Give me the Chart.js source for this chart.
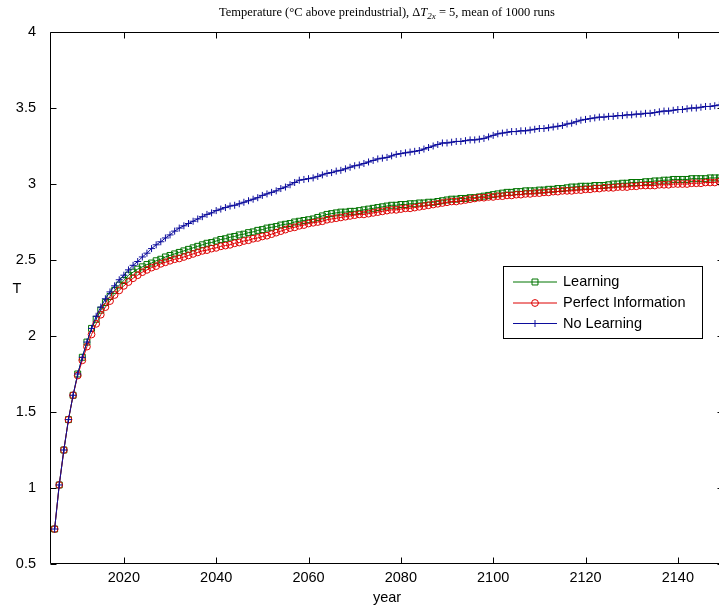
<!DOCTYPE html>
<html>
<head>
<meta charset="utf-8">
<script src="https://cdn.jsdelivr.net/npm/chart.js@4.4.1/dist/chart.umd.min.js"></script>
<style>
  html, body { margin: 0; padding: 0; background: #fff; overflow: hidden; }
  #wrap { position: relative; width: 730px; height: 605px; }
</style>
</head>
<body>
<div id="wrap"><canvas id="chart" width="730" height="605"></canvas></div>
<script>
// yearly means
const years = [
  2005, 2006, 2007, 2008, 2009, 2010, 2011, 2012, 2013, 2014,
  2015, 2016, 2017, 2018, 2019, 2020, 2021, 2022, 2023, 2024,
  2025, 2026, 2027, 2028, 2029, 2030, 2031, 2032, 2033, 2034,
  2035, 2036, 2037, 2038, 2039, 2040, 2041, 2042, 2043, 2044,
  2045, 2046, 2047, 2048, 2049, 2050, 2051, 2052, 2053, 2054,
  2055, 2056, 2057, 2058, 2059, 2060, 2061, 2062, 2063, 2064,
  2065, 2066, 2067, 2068, 2069, 2070, 2071, 2072, 2073, 2074,
  2075, 2076, 2077, 2078, 2079, 2080, 2081, 2082, 2083, 2084,
  2085, 2086, 2087, 2088, 2089, 2090, 2091, 2092, 2093, 2094,
  2095, 2096, 2097, 2098, 2099, 2100, 2101, 2102, 2103, 2104,
  2105, 2106, 2107, 2108, 2109, 2110, 2111, 2112, 2113, 2114,
  2115, 2116, 2117, 2118, 2119, 2120, 2121, 2122, 2123, 2124,
  2125, 2126, 2127, 2128, 2129, 2130, 2131, 2132, 2133, 2134,
  2135, 2136, 2137, 2138, 2139, 2140, 2141, 2142, 2143, 2144,
  2145, 2146, 2147, 2148, 2149, 2150,
];

const learning = [
  0.73, 1.02, 1.25, 1.45, 1.61, 1.75, 1.86, 1.96, 2.05, 2.11,
  2.17, 2.22, 2.26, 2.30, 2.335, 2.365, 2.40, 2.42, 2.44, 2.455,
  2.47, 2.48, 2.495, 2.505, 2.52, 2.53, 2.54, 2.55, 2.56, 2.57,
  2.58, 2.59, 2.60, 2.61, 2.615, 2.625, 2.635, 2.64, 2.65, 2.655,
  2.665, 2.67, 2.68, 2.685, 2.695, 2.70, 2.71, 2.715, 2.72, 2.73,
  2.735, 2.74, 2.75, 2.755, 2.76, 2.765, 2.77, 2.78, 2.79, 2.80,
  2.805, 2.81, 2.815, 2.815, 2.82, 2.82, 2.825, 2.83, 2.835, 2.84,
  2.845, 2.85, 2.855, 2.86, 2.86, 2.865, 2.865, 2.87, 2.87, 2.875,
  2.875, 2.88, 2.88, 2.885, 2.89, 2.895, 2.90, 2.90, 2.905, 2.905,
  2.91, 2.91, 2.915, 2.92, 2.925, 2.93, 2.935, 2.94, 2.945, 2.945,
  2.95, 2.95, 2.955, 2.955, 2.955, 2.96, 2.96, 2.965, 2.965, 2.97,
  2.97, 2.975, 2.98, 2.98, 2.985, 2.985, 2.985, 2.99, 2.99, 2.99,
  2.995, 3.00, 3.00, 3.005, 3.005, 3.01, 3.01, 3.01, 3.015, 3.015,
  3.02, 3.02, 3.025, 3.025, 3.03, 3.03, 3.03, 3.03, 3.035, 3.035,
  3.035, 3.035, 3.04, 3.04, 3.04, 3.04,
];

const perfectInfo = [
  0.73, 1.02, 1.25, 1.45, 1.61, 1.74, 1.84, 1.93, 2.01, 2.08,
  2.14, 2.19, 2.23, 2.27, 2.30, 2.33, 2.355, 2.38, 2.40, 2.42,
  2.435, 2.45, 2.46, 2.475, 2.485, 2.495, 2.505, 2.51, 2.52, 2.53,
  2.54, 2.55, 2.56, 2.565, 2.575, 2.58, 2.59, 2.595, 2.60, 2.61,
  2.615, 2.625, 2.63, 2.64, 2.645, 2.655, 2.66, 2.67, 2.68, 2.69,
  2.70, 2.71, 2.715, 2.725, 2.73, 2.74, 2.745, 2.75, 2.755, 2.765,
  2.77, 2.775, 2.78, 2.785, 2.79, 2.795, 2.80, 2.80, 2.805, 2.81,
  2.815, 2.82, 2.825, 2.83, 2.83, 2.835, 2.84, 2.84, 2.845, 2.85,
  2.855, 2.86, 2.865, 2.87, 2.875, 2.88, 2.885, 2.885, 2.89, 2.895,
  2.90, 2.905, 2.91, 2.91, 2.915, 2.915, 2.92, 2.92, 2.925, 2.925,
  2.93, 2.93, 2.935, 2.935, 2.94, 2.94, 2.945, 2.945, 2.95, 2.95,
  2.955, 2.955, 2.955, 2.96, 2.96, 2.965, 2.965, 2.97, 2.97, 2.975,
  2.975, 2.975, 2.98, 2.98, 2.98, 2.985, 2.985, 2.99, 2.99, 2.99,
  2.99, 2.995, 2.995, 2.995, 3.00, 3.00, 3.00, 3.00, 3.005, 3.005,
  3.005, 3.01, 3.01, 3.01, 3.015, 3.015,
];

const noLearning = [
  0.73, 1.02, 1.25, 1.45, 1.61, 1.75, 1.86, 1.96, 2.05, 2.13,
  2.19, 2.245, 2.29, 2.33, 2.37, 2.40, 2.435, 2.465, 2.49, 2.52,
  2.545, 2.575, 2.60, 2.62, 2.645, 2.665, 2.69, 2.71, 2.725, 2.74,
  2.755, 2.77, 2.785, 2.80, 2.81, 2.825, 2.835, 2.845, 2.855, 2.86,
  2.87, 2.88, 2.89, 2.90, 2.91, 2.925, 2.935, 2.945, 2.955, 2.97,
  2.98, 2.995, 3.01, 3.025, 3.03, 3.035, 3.04, 3.05, 3.06, 3.07,
  3.075, 3.085, 3.09, 3.10, 3.11, 3.12, 3.125, 3.135, 3.145, 3.155,
  3.165, 3.17, 3.175, 3.185, 3.195, 3.20, 3.205, 3.21, 3.215, 3.22,
  3.23, 3.24, 3.25, 3.26, 3.27, 3.27, 3.275, 3.28, 3.28, 3.285,
  3.29, 3.29, 3.295, 3.30, 3.31, 3.32, 3.33, 3.335, 3.34, 3.345,
  3.345, 3.35, 3.35, 3.355, 3.36, 3.365, 3.365, 3.37, 3.375, 3.38,
  3.385, 3.395, 3.40, 3.41, 3.42, 3.425, 3.43, 3.435, 3.44, 3.44,
  3.445, 3.445, 3.45, 3.45, 3.455, 3.455, 3.46, 3.46, 3.465, 3.465,
  3.47, 3.475, 3.48, 3.48, 3.485, 3.49, 3.49, 3.495, 3.50, 3.50,
  3.505, 3.51, 3.51, 3.515, 3.52, 3.525,
];

const xTicks = [2020, 2040, 2060, 2080, 2100, 2120, 2140];
const yTicks = [0.5, 1, 1.5, 2, 2.5, 3, 3.5, 4];

const seriesNames = ['Learning', 'Perfect Information', 'No Learning'];
const xLabel = 'year';
const yLabel = 'T';

const sans = '"Liberation Sans", Arial, sans-serif';
const serif = '"Liberation Serif", "DejaVu Serif", serif';

const colors = {
  green: '#007400',
  red: '#dd0000',
  blue: '#0c0c9c',
  axis: '#000000',
};

// title pieces: plain text, italic T, subscript 2x
const titleParts = [
  { text: 'Temperature (°C above preindustrial), Δ', font: '12.5px ' + serif, dy: 0 },
  { text: 'T', font: 'italic 12.5px ' + serif, dy: 0 },
  { text: '2x', font: 'italic 9px ' + serif, dy: 3 },
  { text: ' = 5, mean of 1000 runs', font: '12.5px ' + serif, dy: 0 },
];

function pts(values) {
  return years.map((yr, i) => ({ x: yr, y: values[i] }));
}

// box + inward ticks, like the matlab axes
const frame = {
  id: 'frame',
  afterDatasetsDraw(chart) {
    const { ctx, chartArea: a, scales: { x, y } } = chart;
    const L = Math.round(a.left) + 0.5, R = Math.round(a.right) - 0.5;
    const T = Math.round(a.top) + 0.5, B = Math.round(a.bottom) - 0.5;
    const tick = 6;
    ctx.save();
    ctx.strokeStyle = colors.axis;
    ctx.lineWidth = 1;
    ctx.beginPath();
    ctx.rect(L, T, R - L, B - T);
    xTicks.forEach(v => {
      const px = Math.round(x.getPixelForValue(v)) + 0.5;
      ctx.moveTo(px, B); ctx.lineTo(px, B - tick);
      ctx.moveTo(px, T); ctx.lineTo(px, T + tick);
    });
    yTicks.forEach(v => {
      const py = Math.round(y.getPixelForValue(v)) + 0.5;
      ctx.moveTo(L, py); ctx.lineTo(L + tick, py);
      ctx.moveTo(R, py); ctx.lineTo(R - tick, py);
    });
    ctx.stroke();

    // upright y label
    ctx.fillStyle = '#000';
    ctx.font = '14.5px ' + sans;
    ctx.textAlign = 'center';
    ctx.textBaseline = 'middle';
    ctx.fillText(yLabel, 17, 289);
    ctx.restore();
  },
};

const legendBox = {
  id: 'legendBox',
  afterDraw(chart) {
    const { ctx } = chart;
    const box = { x: 503.5, y: 266.5, w: 199, h: 72 };
    const rows = [282, 303, 323.5];
    ctx.save();
    ctx.fillStyle = '#fff';
    ctx.strokeStyle = '#000';
    ctx.lineWidth = 1;
    ctx.fillRect(box.x, box.y, box.w, box.h);
    ctx.strokeRect(box.x, box.y, box.w, box.h);
    chart.data.datasets.forEach((ds, i) => {
      const yy = rows[i];
      ctx.strokeStyle = ds.borderColor;
      ctx.beginPath();
      ctx.moveTo(513, yy); ctx.lineTo(557, yy);
      ctx.stroke();
      ctx.fillStyle = 'rgba(0,0,0,0)';
      Chart.helpers.drawPoint(ctx, {
        pointStyle: ds.pointStyle, radius: ds.pointRadius, rotation: 0, borderWidth: 1,
      }, 535, yy);
      ctx.fillStyle = '#000';
      ctx.font = '14.5px ' + sans;
      ctx.textAlign = 'left';
      ctx.textBaseline = 'middle';
      ctx.fillText(ds.label, 563, yy);
    });
    ctx.restore();
  },
};

const mixedTitle = {
  id: 'mixedTitle',
  afterDraw(chart) {
    const { ctx, chartArea: a } = chart;
    ctx.save();
    let total = 0;
    titleParts.forEach(p => { ctx.font = p.font; total += ctx.measureText(p.text).width; });
    let x = (a.left + a.right) / 2 - total / 2;
    ctx.fillStyle = '#000';
    ctx.textBaseline = 'alphabetic';
    ctx.textAlign = 'left';
    titleParts.forEach(p => {
      ctx.font = p.font;
      ctx.fillText(p.text, x, 16 + p.dy);
      x += ctx.measureText(p.text).width;
    });
    ctx.restore();
  },
};

new Chart(document.getElementById('chart'), {
  type: 'line',
  data: {
    datasets: [
      {
        label: seriesNames[0], data: pts(learning), order: 2,
        borderColor: colors.green, borderWidth: 1,
        pointStyle: 'rect', pointRadius: 4.2, pointBorderColor: colors.green,
        pointBackgroundColor: 'rgba(0,0,0,0)', pointBorderWidth: 1,
      },
      {
        label: seriesNames[1], data: pts(perfectInfo), order: 1,
        borderColor: colors.red, borderWidth: 1,
        pointStyle: 'circle', pointRadius: 3.4, pointBorderColor: colors.red,
        pointBackgroundColor: 'rgba(0,0,0,0)', pointBorderWidth: 1,
      },
      {
        label: seriesNames[2], data: pts(noLearning), order: 0,
        borderColor: colors.blue, borderWidth: 1,
        pointStyle: 'cross', pointRadius: 3.5, pointBorderColor: colors.blue,
        pointBackgroundColor: 'rgba(0,0,0,0)', pointBorderWidth: 1,
      },
    ],
  },
  options: {
    responsive: false,
    animation: false,
    devicePixelRatio: 1,
    layout: { padding: { left: 0, right: 6, top: 32, bottom: 0 } },
    elements: { line: { tension: 0 } },
    scales: {
      x: {
        type: 'linear', min: 2004, max: 2150,
        afterFit: s => { s.height = 41; },
        afterBuildTicks: s => { s.ticks = xTicks.map(v => ({ value: v })); },
        grid: { display: false }, border: { display: false },
        ticks: { color: '#000', font: { family: sans, size: 14.5 }, padding: -3, maxRotation: 0, autoSkip: false, callback: v => String(v) },
        title: { display: true, text: xLabel, color: '#000', font: { family: sans, size: 14.5 }, padding: { top: 0, bottom: -2 } },
      },
      y: {
        type: 'linear', min: 0.5, max: 4,
        afterFit: s => { s.width = 50; },
        afterBuildTicks: s => { s.ticks = yTicks.map(v => ({ value: v })); },
        grid: { display: false }, border: { display: false },
        ticks: { color: '#000', font: { family: sans, size: 14.5 }, padding: 6, autoSkip: false, callback: v => String(v) },
      },
    },
    plugins: {
      legend: { display: false },
      tooltip: { enabled: false },
      title: { display: false },
    },
  },
  plugins: [frame, legendBox, mixedTitle],
});
</script>
</body>
</html>
